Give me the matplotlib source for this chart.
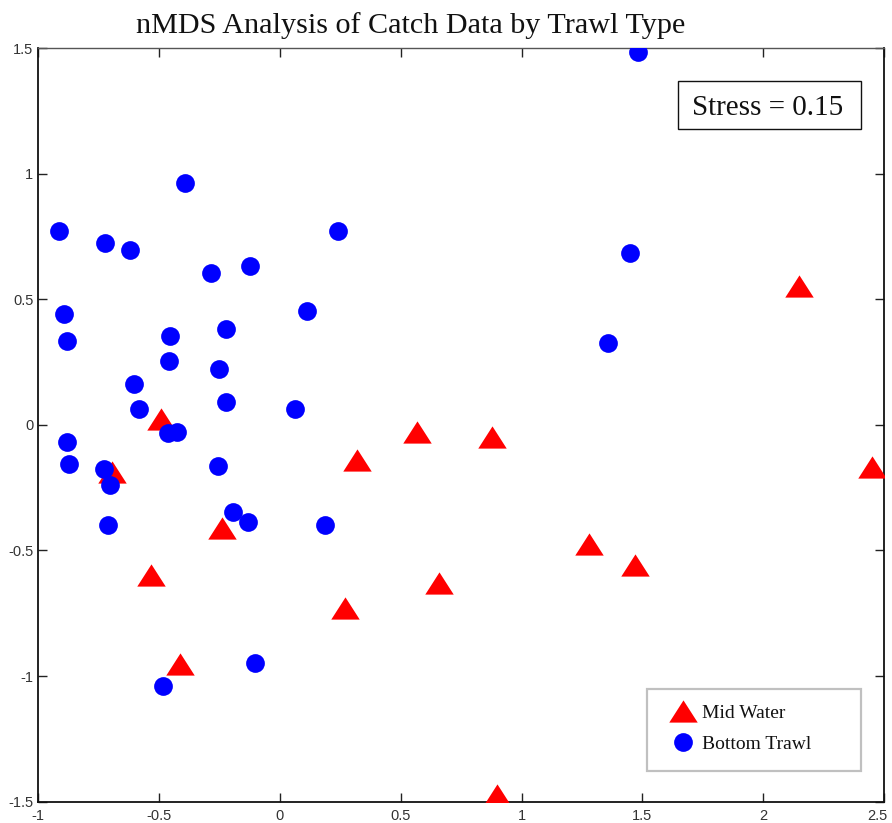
import matplotlib
matplotlib.use("Agg")
import matplotlib.pyplot as plt
from matplotlib.patches import Rectangle
from matplotlib.transforms import ScaledTranslation

# ---- data ----
bottom_x = [1.482, -0.914, -0.724, -0.620, -0.392, -0.284, -0.124, 0.239, 1.448, 1.357,
            -0.892, -0.882, 0.111, -0.223, -0.454, -0.460, -0.253, -0.605, -0.582, -0.224,
            0.064, -0.464, -0.427, -0.882, -0.872, -0.727, -0.703, -0.255, -0.710, -0.193,
            -0.133, 0.187, -0.483, -0.102]
bottom_y = [1.484, 0.773, 0.724, 0.695, 0.964, 0.603, 0.633, 0.773, 0.683, 0.324,
            0.440, 0.332, 0.453, 0.381, 0.354, 0.254, 0.221, 0.161, 0.063, 0.092,
            0.063, -0.034, -0.030, -0.067, -0.157, -0.177, -0.241, -0.164, -0.399, -0.348,
            -0.386, -0.399, -1.040, -0.948]
mid_x = [-0.491, -0.694, -0.241, 0.318, 0.567, 0.879, 2.147, 2.451, 1.281, 1.470,
         0.657, -0.534, 0.269, -0.413, 0.900]
mid_y = [0.024, -0.188, -0.410, -0.138, -0.027, -0.047, 0.553, -0.166, -0.475, -0.556,
         -0.630, -0.596, -0.729, -0.951, -1.473]
xticks = [-1, -0.5, 0, 0.5, 1, 1.5, 2, 2.5]
yticks = [-1.5, -1, -0.5, 0, 0.5, 1, 1.5]
xtick_labels = ["-1", "-0.5", "0", "0.5", "1", "1.5", "2", "2.5"]
ytick_labels = ["-1.5", "-1", "-0.5", "0", "0.5", "1", "1.5"]
title = "nMDS Analysis of Catch Data by Trawl Type"
stress_text = "Stress = 0.15"
labels = ["Mid Water", "Bottom Trawl"]

W, H = 892, 823
fig = plt.figure(figsize=(W / 100, H / 100), dpi=100)
L, R, T, B = 38.3, 884, 48, 801.7
ax = fig.add_axes([L / W, 1 - B / H, (R - L) / W, (B - T) / H])

tri = [(-1, -0.78), (1, -0.78), (0, 0.78), (-1, -0.78)]
h_mid, = ax.plot(mid_x, mid_y, ls='none', marker=tri, markersize=20.5,
                 color='#ff0000', markeredgewidth=0, label=labels[0], zorder=3)
h_bot, = ax.plot(bottom_x, bottom_y, ls='none', marker='o', markersize=13.5,
                 color='#0000ff', markeredgewidth=0, label=labels[1], zorder=3)

ax.set_xlim(-1, 2.5)
ax.set_ylim(-1.5, 1.5)
ax.set_xticks(xticks)
ax.set_xticklabels(xtick_labels)
ax.set_yticks(yticks)
ax.set_yticklabels(ytick_labels)
ax.tick_params(direction='in', length=6.5, width=1, top=True, right=True,
               labelsize=10.5, labelcolor='#333333', color='#222222')
ax.tick_params(axis='x', pad=5.5)
ax.tick_params(axis='y', pad=3.5)
for lab in ax.get_xticklabels() + ax.get_yticklabels():
    lab.set_fontfamily('Liberation Sans')
# keep the right-most x label inside the canvas, as in the reference
last = ax.get_xticklabels()[-1]
last.set_transform(last.get_transform() + ScaledTranslation(-5 / 72, 0, fig.dpi_scale_trans))
for s in ax.spines.values():
    s.set_linewidth(1.3)
    s.set_color('#111111')
ax.spines['top'].set_color('#555555')
ax.spines['top'].set_linewidth(1.0)

fig.text(411 / W, 1 - 33.3 / H, title, ha='center', va='baseline',
         fontsize=21.7, family='Liberation Serif', color='#111111')

# stress annotation box
fig.patches.append(Rectangle((677.7 / W, 1 - 129 / H), (861.3 - 677.7) / W,
                             (129 - 80.7) / H, transform=fig.transFigure,
                             fill=True, fc='white', ec='#111111', lw=1.0, zorder=5))
fig.text(767.8 / W, 1 - 115 / H, stress_text, ha='center', va='baseline',
         fontsize=21, family='Liberation Serif', color='#111111', zorder=6)

# legend frame
fig.patches.append(Rectangle((646.7 / W, 1 - 770.7 / H), (860.7 - 646.7) / W,
                             (770.7 - 689.3) / H, transform=fig.transFigure,
                             fill=True, fc='white', ec='#c0c0c0', lw=1.6, zorder=5))
leg = fig.legend(handles=[h_mid, h_bot], loc='center left',
                 bbox_to_anchor=(673 / W, 1 - 728.5 / H), frameon=False,
                 borderpad=0, borderaxespad=0, numpoints=1, handlelength=1.0,
                 handletextpad=0.48, labelspacing=0.72,
                 prop={'family': 'Liberation Serif', 'size': 14})
leg.set_zorder(6)
for t in leg.get_texts():
    t.set_color('#111111')

fig.savefig('out.png', dpi=100)
